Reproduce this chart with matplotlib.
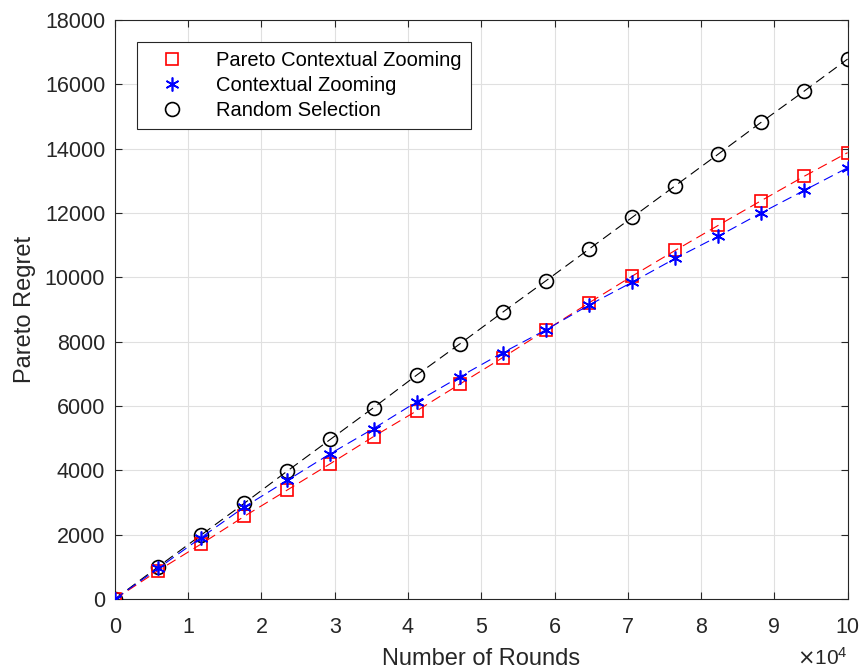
import matplotlib.pyplot as plt
import numpy as np
from matplotlib.lines import Line2D

plt.rcParams['font.family'] = ['Liberation Sans', 'DejaVu Sans']

# number of rounds at each marker
rounds = [0, 5882, 11765, 17647, 23529, 29412, 35294, 41176, 47059,
          52941, 58824, 64706, 70588, 76471, 82353, 88235, 94118, 100000]

pareto_cz = [0, 880, 1710, 2570, 3390, 4210, 5050, 5850, 6680,
             7510, 8360, 9210, 10040, 10840, 11620, 12390, 13150, 13880]
contextual_zoom = [0, 950, 1910, 2860, 3690, 4520, 5300, 6130, 6910,
                   7660, 8370, 9140, 9850, 10590, 11280, 12010, 12710, 13410]
random_sel = [0, 1000, 1990, 2975, 3980, 4965, 5950, 6960, 7930,
              8920, 9895, 10880, 11865, 12850, 13835, 14830, 15800, 16790]

x = np.array(rounds) / 1e4
grey = (0.15, 0.15, 0.15)

fig = plt.figure(figsize=(8.64, 6.72), dpi=100)
ax = fig.add_axes([0.133, 0.1086, 0.848, 0.8614])

asterisk = (6, 2, 0)
ax.plot(x, random_sel, color='k', ls=(0, (9, 5)), lw=0.8,
        marker='o', ms=10, mfc='none', mew=1.2, zorder=3)
ax.plot(x, pareto_cz, color='r', ls=(0, (9, 5)), lw=0.8,
        marker='s', ms=9, mfc='none', mew=1.2, zorder=4)
ax.plot(x, contextual_zoom, color='b', ls=(0, (9, 5)), lw=0.8,
        marker=asterisk, ms=10, mew=1.2, zorder=5)

ax.set_xlim(0, 10)
ax.set_ylim(0, 18000)
ax.set_xticks(np.arange(0, 11, 1))
ax.set_yticks(np.arange(0, 18001, 2000))
ax.grid(True, color=(0.88, 0.88, 0.88), lw=0.8)
ax.set_axisbelow(True)
ax.tick_params(direction='in', top=True, right=True, length=5,
               labelsize=15.5, colors=grey)
ax.tick_params(axis='x', pad=13)
ax.tick_params(axis='y', pad=7)
for s in ax.spines.values():
    s.set_color(grey)
    s.set_linewidth(0.8)

ax.set_xlabel('Number of Rounds', fontsize=17, color=grey, labelpad=7.5)
ax.set_ylabel('Pareto Regret', fontsize=17, color=grey, labelpad=6)
fig.text(848 / 864, 1 - 647 / 672, r'$\times\mathregular{10^{4}}$',
         ha='right', va='top', fontsize=15, color=grey)

handles = [
    Line2D([], [], color='r', ls='none', marker='s', ms=8, mfc='none', mew=1.2),
    Line2D([], [], color='b', ls='none', marker=asterisk, ms=10, mew=1.2),
    Line2D([], [], color='k', ls='none', marker='o', ms=10, mfc='none', mew=1.2),
]
labels = ['Pareto Contextual Zooming', 'Contextual Zooming', 'Random Selection']
leg = ax.legend(handles, labels, loc='upper left',
                bbox_to_anchor=(22 / 733, 1 - 22 / 579), borderaxespad=0,
                fontsize=14.5, fancybox=False, framealpha=1, edgecolor=grey,
                handlelength=2.6, handletextpad=0.9, borderpad=0.45,
                labelspacing=0.3)
leg.get_frame().set_linewidth(0.8)

fig.savefig('out.png', dpi=100)
